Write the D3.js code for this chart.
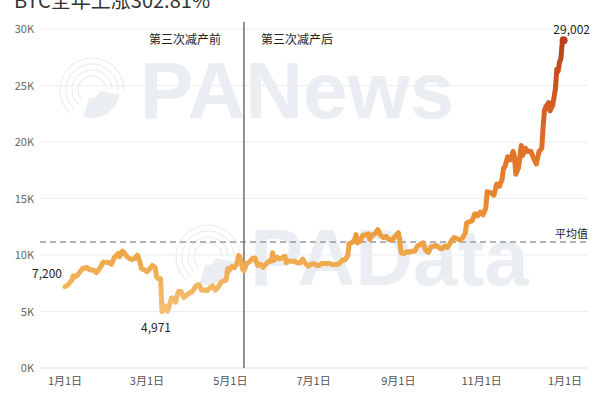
<!DOCTYPE html>
<html><head><meta charset="utf-8">
<script src="https://cdn.jsdelivr.net/npm/d3@7"></script>
<style>body{margin:0;background:#fff;}svg{display:block;font-family:"Noto Sans CJK SC","Noto Sans",sans-serif;}</style>
</head><body>
<svg id="c" width="600" height="401"></svg>
<script>
const title = "BTC全年上涨302.81%";
const dates = ["2020-01-01","2020-01-03","2020-01-06","2020-01-07","2020-01-08","2020-01-10","2020-01-14","2020-01-15","2020-01-17","2020-01-19","2020-01-22","2020-01-24","2020-01-27","2020-01-29","2020-01-31","2020-02-02","2020-02-04","2020-02-06","2020-02-09","2020-02-10","2020-02-12","2020-02-13","2020-02-15","2020-02-17","2020-02-19","2020-02-21","2020-02-23","2020-02-25","2020-02-26","2020-02-28","2020-03-01","2020-03-03","2020-03-05","2020-03-07","2020-03-08","2020-03-09","2020-03-11","2020-03-12","2020-03-13","2020-03-15","2020-03-16","2020-03-17","2020-03-19","2020-03-20","2020-03-22","2020-03-24","2020-03-26","2020-03-28","2020-03-30","2020-04-01","2020-04-03","2020-04-06","2020-04-08","2020-04-10","2020-04-12","2020-04-14","2020-04-16","2020-04-18","2020-04-20","2020-04-22","2020-04-24","2020-04-26","2020-04-28","2020-04-29","2020-04-30","2020-05-02","2020-05-04","2020-05-06","2020-05-07","2020-05-08","2020-05-10","2020-05-11","2020-05-13","2020-05-15","2020-05-17","2020-05-19","2020-05-21","2020-05-23","2020-05-25","2020-05-27","2020-05-29","2020-05-31","2020-06-01","2020-06-02","2020-06-04","2020-06-06","2020-06-08","2020-06-10","2020-06-11","2020-06-13","2020-06-15","2020-06-17","2020-06-19","2020-06-21","2020-06-23","2020-06-25","2020-06-27","2020-06-29","2020-07-01","2020-07-03","2020-07-05","2020-07-07","2020-07-09","2020-07-11","2020-07-13","2020-07-15","2020-07-17","2020-07-19","2020-07-21","2020-07-22","2020-07-24","2020-07-26","2020-07-27","2020-07-29","2020-07-31","2020-08-01","2020-08-02","2020-08-04","2020-08-06","2020-08-08","2020-08-10","2020-08-11","2020-08-13","2020-08-15","2020-08-17","2020-08-19","2020-08-21","2020-08-23","2020-08-25","2020-08-27","2020-08-29","2020-09-01","2020-09-02","2020-09-03","2020-09-05","2020-09-07","2020-09-09","2020-09-11","2020-09-13","2020-09-15","2020-09-17","2020-09-19","2020-09-21","2020-09-23","2020-09-25","2020-09-27","2020-09-29","2020-10-01","2020-10-03","2020-10-05","2020-10-07","2020-10-09","2020-10-10","2020-10-12","2020-10-14","2020-10-16","2020-10-18","2020-10-20","2020-10-21","2020-10-23","2020-10-25","2020-10-27","2020-10-29","2020-10-31","2020-11-02","2020-11-04","2020-11-05","2020-11-06","2020-11-08","2020-11-10","2020-11-12","2020-11-14","2020-11-16","2020-11-17","2020-11-18","2020-11-20","2020-11-22","2020-11-24","2020-11-25","2020-11-26","2020-11-28","2020-11-30","2020-12-01","2020-12-03","2020-12-05","2020-12-07","2020-12-09","2020-12-11","2020-12-13","2020-12-15","2020-12-16","2020-12-17","2020-12-18","2020-12-20","2020-12-21","2020-12-23","2020-12-25","2020-12-26","2020-12-27","2020-12-28","2020-12-29","2020-12-30","2020-12-31"];
const prices = [7200,7345,7770,8160,8040,8190,8830,8810,8910,8700,8660,8430,8910,9390,9350,9340,9180,9760,10140,9850,10350,10240,9900,9700,9600,9690,9990,9320,8785,8690,8520,8760,9080,8900,8040,7930,7910,4971,5560,5390,5020,5370,6190,6200,5830,6770,6760,6250,6430,6640,6730,7290,7370,6880,6910,6840,7090,7260,6880,7130,7550,7700,7770,8790,8620,8980,8880,9270,9950,9840,8750,8600,9270,9380,9670,9730,9080,9170,8900,9200,9430,9450,10200,9520,9800,9660,9760,9890,9320,9480,9450,9450,9300,9300,9630,9250,9010,9190,9230,9090,9070,9250,9240,9240,9240,9130,9150,9170,9390,9530,9580,9930,11000,11100,11320,11800,11070,11230,11750,11770,11880,11400,11780,11880,12250,11750,11530,11650,11360,11330,11540,11970,11400,10200,10130,10280,10240,10340,10330,10790,10940,11080,10420,10230,10740,10780,10840,10620,10550,10790,10670,11060,11300,11550,11430,11320,11500,11920,12820,12930,13030,13650,13460,13800,13550,14130,15590,15580,15480,15290,16290,16070,16720,17680,17800,18680,18410,19160,18720,17150,17730,19700,18800,19450,19150,19190,18560,18060,19160,19430,21380,22800,23130,23480,22750,23240,24710,26440,26270,27080,27360,28840,29002];
const yTicks = [0,5000,10000,15000,20000,25000,30000];
const yTickLabels = ["0K","5K","10K","15K","20K","25K","30K"];
const xTicks = ["2020-01-01","2020-03-01","2020-05-01","2020-07-01","2020-09-01","2020-11-01","2021-01-01"];
const xTickLabels = ["1月1日","3月1日","5月1日","7月1日","9月1日","11月1日","1月1日"];
const halvingDate = "2020-05-11";
const averageValue = 11150;
const sideLabels = ["第三次减产前","第三次减产后"];
const avgLabel = "平均值";
const annotations = [{date:"2020-01-01",value:7200,text:"7,200"},{date:"2020-03-12",value:4971,text:"4,971"},{date:"2020-12-31",value:29002,text:"29,002"}];

const parse = d3.timeParse("%Y-%m-%d");
const data = dates.map((d,i)=>({date:parse(d),value:prices[i]}));
const svg = d3.select("#c");
const x = d3.scaleTime().domain([parse("2020-01-01"),parse("2021-01-01")]).range([65,565]);
const y = d3.scaleLinear().domain([0,30000]).range([368,29]);

// title (cut off at top, as in the reference)
svg.append("text").attr("x",14).attr("y",8).attr("font-size",20).attr("fill","#333").text(title);

// gridlines
svg.append("g").selectAll("line").data(yTicks).join("line")
  .attr("x1",40).attr("x2",588).attr("y1",d=>y(d)).attr("y2",d=>y(d))
  .attr("stroke",d=>d===0?"#e2e2e2":"#ededed").attr("stroke-width",1);

// watermarks
const wmColor = "#eaedf1";
const wm = svg.append("g").attr("fill",wmColor).attr("font-family","Liberation Sans, Arial, sans-serif").attr("font-weight","bold");
wm.append("text").attr("x",140).attr("y",118).attr("font-size",80).text("PANews");
wm.append("text").attr("x",250).attr("y",285).attr("font-size",80).text("PAData");
const arcs = svg.append("g").attr("fill","none").attr("stroke",wmColor);
[[92,90],[208,257]].forEach(([cx,cy])=>{
  [14,20,26,32].forEach(r=>{
    arcs.append("path").attr("transform",`translate(${cx},${cy})`)
      .attr("d",d3.arc()({innerRadius:r,outerRadius:r,startAngle:-Math.PI*0.75,endAngle:Math.PI*0.5})).attr("stroke-width",1.2);
  });
  arcs.append("path").attr("transform",`translate(${cx},${cy})`)
    .attr("d",d3.arc()({innerRadius:8,outerRadius:28,startAngle:Math.PI*0.55,endAngle:Math.PI*1.1})).attr("fill",wmColor).attr("stroke","none");
});

// y axis labels
svg.append("g").selectAll("text").data(yTicks).join("text")
  .attr("x",34).attr("y",d=>y(d)+4).attr("text-anchor","end").attr("font-size",11).attr("fill","#666")
  .text((d,i)=>yTickLabels[i]);

// x axis labels
svg.append("g").selectAll("text").data(xTicks).join("text")
  .attr("x",d=>x(parse(d))).attr("y",385).attr("text-anchor","middle").attr("font-size",11).attr("fill","#555")
  .text((d,i)=>xTickLabels[i]);

// average dashed line
svg.append("line").attr("x1",40).attr("x2",588).attr("y1",y(averageValue)).attr("y2",y(averageValue))
  .attr("stroke","#9a9a9a").attr("stroke-width",1.5).attr("stroke-dasharray","6,4");
svg.append("text").attr("x",588).attr("y",y(averageValue)-4).attr("text-anchor","end").attr("font-size",11).attr("fill","#222").text(avgLabel);

// halving line
const hx = x(parse(halvingDate));
svg.append("line").attr("x1",hx).attr("x2",hx).attr("y1",22).attr("y2",368).attr("stroke","#6e6e6e").attr("stroke-width",1.5);
svg.append("text").attr("x",hx-23).attr("y",44).attr("text-anchor","end").attr("font-size",12).attr("fill","#222").text(sideLabels[0]);
svg.append("text").attr("x",hx+17).attr("y",44).attr("text-anchor","start").attr("font-size",12).attr("fill","#222").text(sideLabels[1]);

// gradient by value
const defs = svg.append("defs");
const grad = defs.append("linearGradient").attr("id","g").attr("gradientUnits","userSpaceOnUse")
  .attr("x1",0).attr("x2",0).attr("y1",y(5000)).attr("y2",y(29000));
[[0,"#f4c074"],[0.2,"#efa84a"],[0.32,"#ec9636"],[0.55,"#e3772a"],[0.75,"#d65e22"],[1,"#b8401b"]].forEach(([o,c])=>grad.append("stop").attr("offset",o).attr("stop-color",c));

const line = d3.line().x(d=>x(d.date)).y(d=>y(d.value));
svg.append("path").datum(data).attr("d",line).attr("fill","none").attr("stroke","url(#g)")
  .attr("stroke-width",5).attr("stroke-linejoin","round").attr("stroke-linecap","round");

// end dot
const last = data[data.length-1];
svg.append("circle").attr("cx",x(last.date)).attr("cy",y(last.value)).attr("r",4).attr("fill","#b8401b");

// annotations
const an = svg.append("g").attr("font-size",12).attr("fill","#222");
an.append("text").attr("x",x(parse(annotations[0].date))-3).attr("y",y(annotations[0].value)-9).attr("text-anchor","end").text(annotations[0].text);
an.append("text").attr("x",x(parse(annotations[1].date))-6).attr("y",y(annotations[1].value)+20).attr("text-anchor","middle").text(annotations[1].text);
an.append("text").attr("x",x(parse(annotations[2].date))+8).attr("y",y(annotations[2].value)-6).attr("text-anchor","middle").text(annotations[2].text);
</script>
</body></html>
